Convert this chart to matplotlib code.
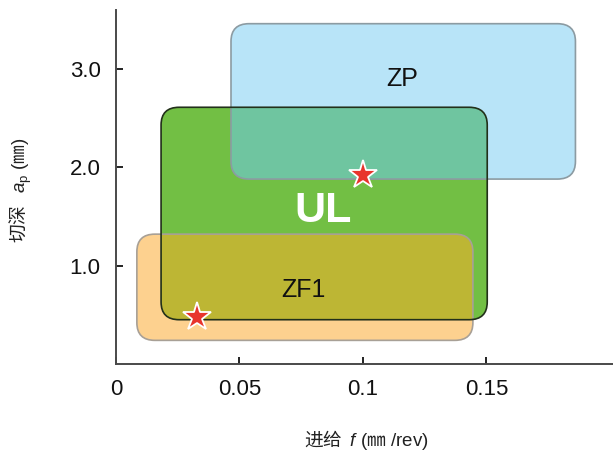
import matplotlib
matplotlib.use("Agg")
import matplotlib.pyplot as plt
from matplotlib.patches import FancyBboxPatch

plt.rcParams['font.family'] = ['Liberation Sans', 'Noto Sans CJK SC', 'DejaVu Sans']
plt.rcParams['mathtext.fontset'] = 'custom'
plt.rcParams['mathtext.it'] = 'Liberation Sans:italic'
plt.rcParams['mathtext.rm'] = 'Liberation Sans'

# Application ranges: (feed min, feed max, depth min, depth max)
names = ["ZP", "UL", "ZF1"]
feed_lo = [0.0466, 0.0183, 0.0085]
feed_hi = [0.1860, 0.1503, 0.1445]
depth_lo = [1.88, 0.45, 0.24]
depth_hi = [3.46, 2.61, 1.32]

# Recommended starting points
star_feed = [0.100, 0.0328]
star_depth = [1.92, 0.48]

x_ticks = [0, 0.05, 0.1, 0.15]
x_ticklabels = ["0", "0.05", "0.1", "0.15"]
y_ticks = [1.0, 2.0, 3.0]
y_ticklabels = ["1.0", "2.0", "3.0"]

fill = {"ZP": "#b8e4f8", "UL": "#72bf44", "ZF1": "#fdd18f"}
edge = {"ZP": "#8c9ba2", "UL": "#22301a", "ZF1": "#a8a096"}
overlap = {("UL", "ZP"): "#6fc5a0", ("UL", "ZF1"): "#bdb634"}

fig = plt.figure(figsize=(6.13, 4.51), dpi=100)
ax = fig.add_axes([0.189, 0.193, 0.811, 0.785])
ax.set_xlim(0, 0.2012)
ax.set_ylim(0, 3.6)

rx = 0.0073
aspect = 0.18 / rx


def make_box(i, **kw):
    return FancyBboxPatch((feed_lo[i], depth_lo[i]),
                          feed_hi[i] - feed_lo[i], depth_hi[i] - depth_lo[i],
                          boxstyle=f"round,pad=0,rounding_size={rx}",
                          mutation_aspect=aspect, **kw)


boxes = {}
for i, n in enumerate(names):
    p = make_box(i, facecolor=fill[n], edgecolor="none", zorder=1)
    ax.add_patch(p)
    boxes[n] = i

# Overlap regions: fill one box, clipped by the other
for (a, b), c in overlap.items():
    clip = make_box(boxes[b], facecolor="none", edgecolor="none")
    ax.add_patch(clip)
    p = make_box(boxes[a], facecolor=c, edgecolor="none", zorder=2)
    ax.add_patch(p)
    p.set_clip_path(clip)

# Outlines
for n in ["ZP", "ZF1", "UL"]:
    ax.add_patch(make_box(boxes[n], facecolor="none", edgecolor=edge[n],
                          linewidth=1.2, zorder=3))

ax.text(0.116, 2.9, "ZP", fontsize=18, ha="center", va="center", color="#111111", zorder=5)
ax.text(0.0838, 1.56, "UL", fontsize=31, fontweight="bold", ha="center", va="center",
        color="white", zorder=5)
ax.text(0.076, 0.756, "ZF1", fontsize=18, ha="center", va="center", color="#111111", zorder=5)

ax.plot(star_feed, star_depth, linestyle="none", marker="*", markersize=21,
        markerfacecolor="#e8342c", markeredgecolor="white", markeredgewidth=1.3, zorder=6)

for s in ["top", "right"]:
    ax.spines[s].set_visible(False)
for s in ["left", "bottom"]:
    ax.spines[s].set_color("#4a4a4a")
    ax.spines[s].set_linewidth(1.4)

ax.set_xticks(x_ticks)
ax.set_xticklabels(x_ticklabels)
ax.set_yticks(y_ticks)
ax.set_yticklabels(y_ticklabels)
ax.tick_params(direction="in", length=5, width=1.4, color="#222222",
               labelsize=16, labelcolor="#111111")
ax.tick_params(axis="x", pad=11)
ax.tick_params(axis="y", pad=11)

cjk = "Noto Sans CJK SC"
fig.text(0.597, 0.024, "进给  $\\it{f}\\ \\mathrm{(}$㎜$\\mathrm{\\ /rev)}$", fontsize=13.5,
         ha="center", va="center", color="#222222", family=cjk)
fig.text(0.034, 0.579, "切深   $a_\\mathrm{p}\\ \\mathrm{(}$㎜$\\mathrm{)}$", fontsize=13.5,
         ha="center", va="center", rotation=90, color="#222222", family=cjk)

fig.savefig("out.png", dpi=100)
